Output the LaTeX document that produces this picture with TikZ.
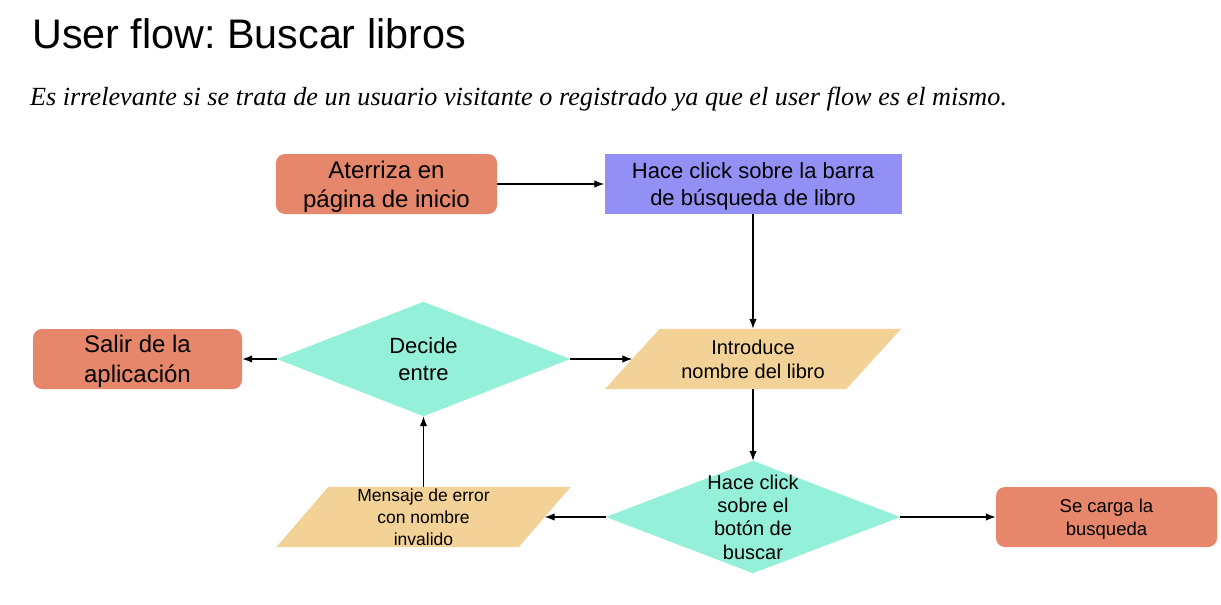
\documentclass[tikz,border=0pt]{standalone}
\usepackage{fontspec}
\setmainfont{Liberation Sans}
\newfontfamily\serifit{Liberation Serif}
\usetikzlibrary{arrows.meta,backgrounds}
\frenchspacing
\definecolor{termc}{RGB}{230,134,106}
\definecolor{procc}{RGB}{146,144,245}
\definecolor{decc}{RGB}{149,240,217}
\definecolor{ioc}{RGB}{242,210,150}
\tikzset{
  box/.style={align=center, inner sep=0pt, text=black},
  term/.style={box, fill=termc, rounded corners=9pt, minimum height=60pt, text depth=0pt},
  proc/.style={box, fill=procc, minimum height=60pt, text depth=0pt},
  decbox/.style={box, draw=none},
  iobox/.style={box, draw=none, minimum height=60pt},
  arr/.style={draw=black, line width=1.3pt, -{Latex[length=10pt,width=7.5pt]}},
}
\begin{document}
\begin{tikzpicture}[x=1pt,y=-1pt]
\useasboundingbox (0,0) rectangle (1221,605);
% titles
\node[anchor=base west, inner sep=0pt, font=\frenchspacing\fontsize{41.3}{49}\selectfont] (title) at (32,48) {User flow: Buscar libros};
\node[anchor=base west, inner sep=0pt, font=\serifit\itshape\fontsize{26.2}{31}\selectfont] (sub) at (30,105) {Es irrelevante si se trata de un usuario visitante o registrado ya que el user flow es el mismo.};
% nodes
\node[term, minimum width=221pt, font=\fontsize{24}{29}\selectfont] (start) at (386.5,184) {Aterriza en\\página de inicio};
\node[proc, minimum width=297pt, font=\fontsize{22}{27}\selectfont] (bar) at (753,184) {Hace click sobre la barra\\de búsqueda de libro};
\node[iobox, minimum width=241pt, font=\fontsize{20}{24}\selectfont] (intro) at (753,359) {Introduce\\nombre del libro};
\node[decbox, minimum width=293pt, minimum height=114pt, font=\fontsize{22}{27}\selectfont] (decide) at (423.5,359) {Decide\\entre};
\node[term, minimum width=209pt, font=\fontsize{24}{30}\selectfont] (salir) at (137.5,359) {Salir de la\\aplicación};
\node[decbox, minimum width=294pt, minimum height=112pt, font=\fontsize{20}{23.3}\selectfont] (click) at (753,517) {Hace click\\sobre el\\botón de\\buscar};
\node[iobox, minimum width=242pt, font=\fontsize{17.5}{22}\selectfont] (msg) at (423.5,517) {Mensaje de error\\con nombre\\invalido};
\node[term, minimum width=221pt, font=\fontsize{18.5}{23}\selectfont] (carga) at (1106.5,517) {Se carga la\\busqueda};
% shapes behind
\begin{scope}[on background layer]
\fill[white] (0,0) rectangle (1221,605);
\fill[ioc] ([xshift=-27.5pt]intro.south west) -- ([xshift=-27.5pt]intro.south east) -- ([xshift=27.5pt]intro.north east) -- ([xshift=27.5pt]intro.north west) -- cycle;
\fill[ioc] ([xshift=-26pt]msg.south west) -- ([xshift=-26pt]msg.south east) -- ([xshift=26pt]msg.north east) -- ([xshift=26pt]msg.north west) -- cycle;
\fill[decc] (decide.north) -- (decide.east) -- (decide.south) -- (decide.west) -- cycle;
\fill[decc] (click.north) -- (click.east) -- (click.south) -- (click.west) -- cycle;
\end{scope}
% connectors
\draw[arr] (start.east) -- (bar.west);
\draw[arr] (bar.south) -- (intro.north);
\draw[arr] (decide.east) -- (intro.west);
\draw[arr] (decide.west) -- (salir.east);
\draw[arr] (intro.south) -- (click.north);
\draw[arr] (click.west) -- (msg.east);
\draw[arr] (click.east) -- (carga.west);
\draw[arr] (msg.north) -- (decide.south);
\end{tikzpicture}
\end{document}
